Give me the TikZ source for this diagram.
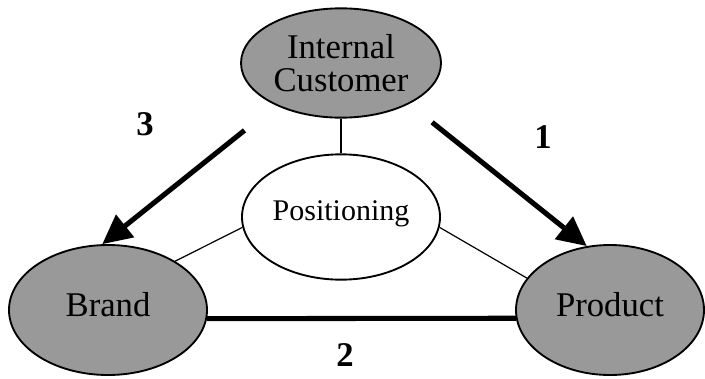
\documentclass[tikz,border=0pt]{standalone}
\usepackage{fontspec}
\setmainfont{Liberation Serif}
\usetikzlibrary{arrows.meta,shapes.geometric}
\definecolor{blobgray}{gray}{0.6}

\begin{document}
\begin{tikzpicture}[x=0.75pt,y=-0.75pt,
    blob/.style={ellipse,draw,line width=1.4pt,fill=blobgray,inner sep=0pt,font=\fontsize{26}{25}\selectfont,text depth=9pt},
    hub/.style={ellipse,draw,line width=1.4pt,fill=white,inner sep=0pt,font=\fontsize{22.5}{24}\selectfont,text depth=10pt},
    bar/.style={line width=3.8pt},
    heavy/.style={bar,-{Triangle[length=22pt,width=21pt]}},
    plain/.style={line width=0.9pt},
    num/.style={font=\fontsize{26}{25}\selectfont\bfseries}]

    \useasboundingbox (0,0) rectangle (705,378);

    \node[blob]  (ic)      at (341,63)  [minimum width=150pt,minimum height=82pt,align=center,text depth=0pt] {Internal\\Customer};
    \node[hub]   (pos)     at (341,217) [minimum width=148.5pt,minimum height=94pt]  {Positioning};
    \node[blob]  (brand)   at (108,310) [minimum width=148.5pt,minimum height=97.5pt] {Brand};
    \node[blob]  (product) at (610,310) [minimum width=141pt,minimum height=97.5pt]   {Product};

    \node[num]   (n3) at (145,124) {3};
    \node[num]   (n1) at (543,137) {1};
    \node[num]   (n2) at (345,355) {2};

  \path[plain] (ic)          edge (pos)
               (brand.36)    edge (pos.186)
               (product.159) edge (pos.354)
               ;
  \path[heavy] (ic.213)      edge[shorten <=30pt] (brand.95)
               (ic.329)      edge[shorten <=22pt] (product.110)
               ;
  \path[bar]   (brand.-5)    edge (product.185)
               ;
\end{tikzpicture}
\end{document}
